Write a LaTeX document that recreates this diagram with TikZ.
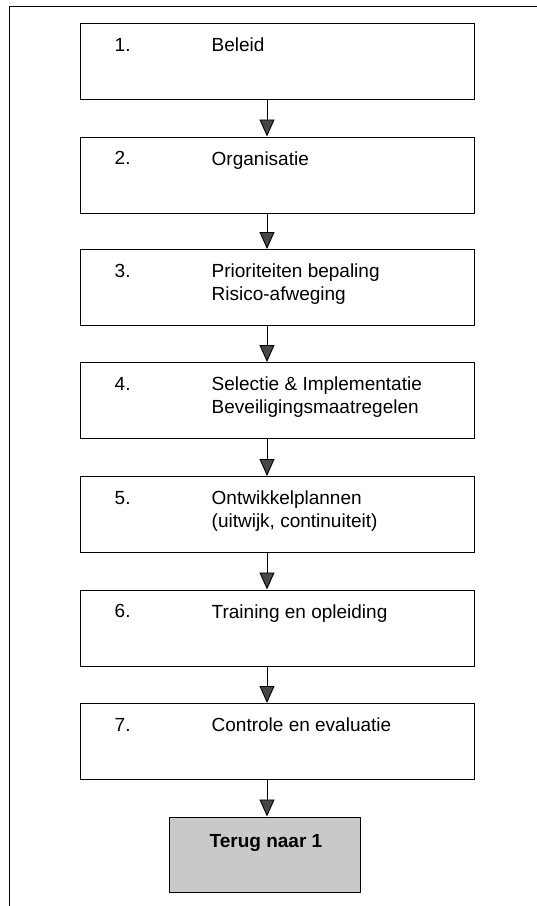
\documentclass[tikz,border=0pt]{standalone}
\usepackage{fontspec}
\setmainfont{Liberation Sans}
\usetikzlibrary{arrows.meta}

\tikzset{
    stepbox/.style={draw, line width=1pt, minimum width=394pt, minimum height=76pt, inner sep=0pt},
    backbox/.style={draw, line width=1pt, fill=black!21, minimum width=191pt, minimum height=75pt, inner sep=0pt},
    steptext/.style={anchor=north west, inner sep=0pt, align=left, font=\fontsize{19}{23}\selectfont},
    flow/.style={line width=0.9pt, -{Triangle[width=15pt, length=17pt, fill=black!72]}}
}

\begin{document}
\begin{tikzpicture}[x=1pt, y=-1pt]
    \useasboundingbox (0,0) rectangle (537,906);

    % Frame
    \draw[line width=1pt] (537,6) -- (9,6) -- (9,906);

    % Steps
    \node[stepbox] (b1) at (277,61.5) {};
    \node[stepbox] (b2) at (277,175) {};
    \node[stepbox] (b3) at (277,287.5) {};
    \node[stepbox] (b4) at (277,400.5) {};
    \node[stepbox] (b5) at (277,514.5) {};
    \node[stepbox] (b6) at (277,628) {};
    \node[stepbox] (b7) at (277,741.5) {};
    \node[backbox] (back) at (264.5,854.5) {};

    % Step texts
    \node[steptext] (n1) at ([xshift=35pt, yshift=-15pt]b1.north west) {1.};
    \node[steptext] (t1) at ([xshift=132pt, yshift=-15pt]b1.north west) {Beleid};
    \node[steptext] (n2) at ([xshift=35pt, yshift=-15pt]b2.north west) {2.};
    \node[steptext] (t2) at ([xshift=132pt, yshift=-15pt]b2.north west) {Organisatie};
    \node[steptext] (n3) at ([xshift=35pt, yshift=-15pt]b3.north west) {3.};
    \node[steptext] (t3) at ([xshift=132pt, yshift=-15pt]b3.north west) {Prioriteiten bepaling\\Risico-afweging};
    \node[steptext] (n4) at ([xshift=35pt, yshift=-15pt]b4.north west) {4.};
    \node[steptext] (t4) at ([xshift=132pt, yshift=-15pt]b4.north west) {Selectie \& Implementatie\\Beveiligingsmaatregelen};
    \node[steptext] (n5) at ([xshift=35pt, yshift=-15pt]b5.north west) {5.};
    \node[steptext] (t5) at ([xshift=132pt, yshift=-15pt]b5.north west) {Ontwikkelplannen\\(uitwijk, continuiteit)};
    \node[steptext] (n6) at ([xshift=35pt, yshift=-15pt]b6.north west) {6.};
    \node[steptext] (t6) at ([xshift=132pt, yshift=-15pt]b6.north west) {Training en opleiding};
    \node[steptext] (n7) at ([xshift=35pt, yshift=-15pt]b7.north west) {7.};
    \node[steptext] (t7) at ([xshift=132pt, yshift=-15pt]b7.north west) {Controle en evaluatie};
    \node[steptext, anchor=north, font=\fontsize{19}{23}\selectfont\bfseries] (tb) at ([xshift=1.5pt, yshift=-18pt]back.north) {Terug naar 1};

    % Arrows
    \draw[flow] ([xshift=-10pt]b1.south) -- ([xshift=-10pt]b2.north);
    \draw[flow] ([xshift=-10pt]b2.south) -- ([xshift=-10pt]b3.north);
    \draw[flow] ([xshift=-10pt]b3.south) -- ([xshift=-10pt]b4.north);
    \draw[flow] ([xshift=-10pt]b4.south) -- ([xshift=-10pt]b5.north);
    \draw[flow] ([xshift=-10pt]b5.south) -- ([xshift=-10pt]b6.north);
    \draw[flow] ([xshift=-10pt]b6.south) -- ([xshift=-10pt]b7.north);
    \draw[flow] ([xshift=-10pt]b7.south) -- ([xshift=2.5pt]back.north);
\end{tikzpicture}
\end{document}
